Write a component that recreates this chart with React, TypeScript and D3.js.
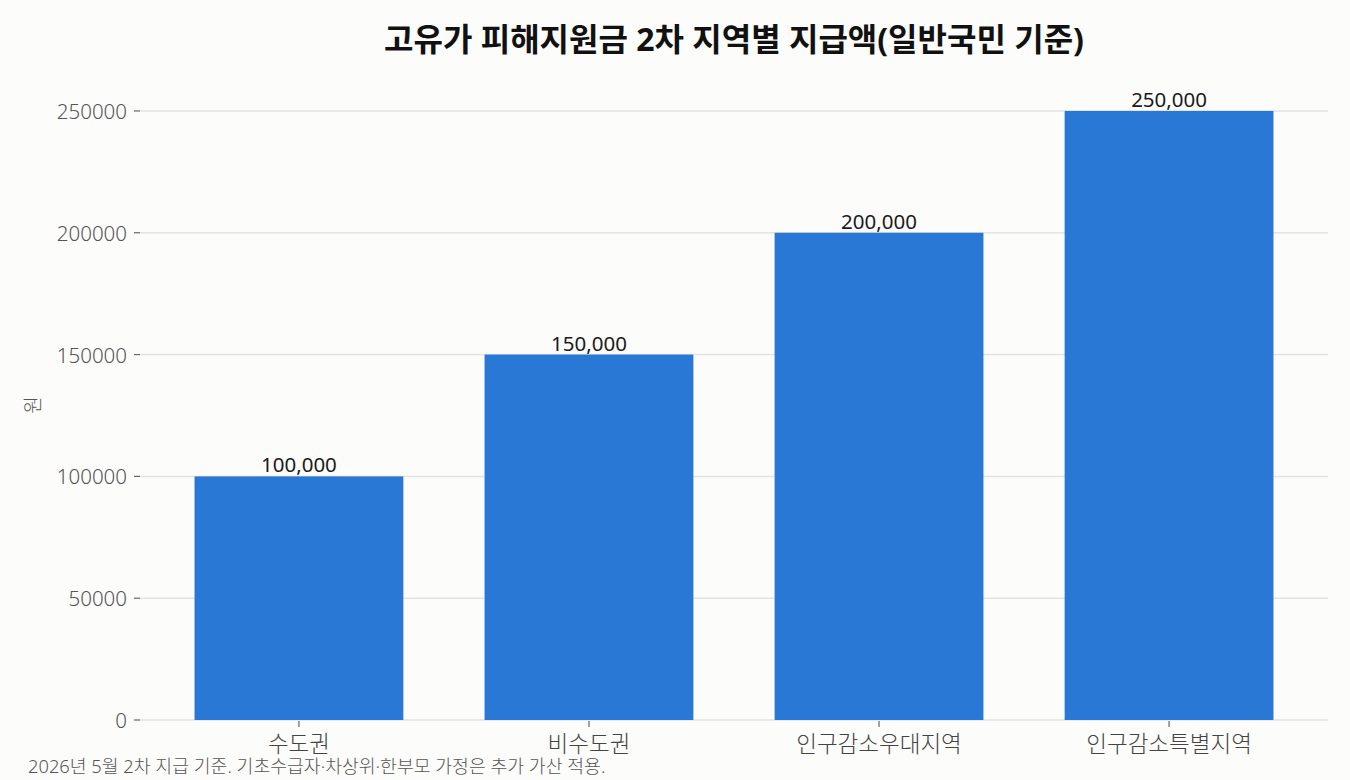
import { useEffect, useRef } from 'react'
import * as d3 from 'd3'

const categories = ['수도권', '비수도권', '인구감소우대지역', '인구감소특별지역']
const amounts = [100000, 150000, 200000, 250000]
const yTicks = [0, 50000, 100000, 150000, 200000, 250000]

const title = '고유가 피해지원금 2차 지역별 지급액(일반국민 기준)'
const yLabel = '원'
const footnote = '2026년 5월 2차 지급 기준. 기초수급자·차상위·한부모 가정은 추가 가산 적용.'

const W = 1350
const H = 780
const FONT = "'Noto Sans', 'Noto Sans CJK KR', sans-serif"

export default function App() {
  const ref = useRef<SVGSVGElement | null>(null)

  useEffect(() => {
    const svg = d3.select(ref.current)
    svg.selectAll('*').remove()
    svg.attr('width', W).attr('height', H).style('font-family', FONT)

    svg.append('rect').attr('width', W).attr('height', H).attr('fill', '#fcfcfa')

    const left = 140
    const right = 1328
    const bottom = 720
    const top = 80.5

    const x = d3.scaleBand<string>().domain(categories).range([left, right]).paddingInner(0.28).paddingOuter(0.188)
    const y = d3.scaleLinear().domain([0, 262500]).range([bottom, top])

    // grid
    svg.append('g')
      .selectAll('line')
      .data(yTicks)
      .join('line')
      .attr('x1', left)
      .attr('x2', right)
      .attr('y1', (d) => y(d))
      .attr('y2', (d) => y(d))
      .attr('stroke', '#e3e3e3')
      .attr('stroke-width', 1.5)

    // y ticks
    const yg = svg.append('g')
    yTicks.forEach((t) => {
      yg.append('line')
        .attr('x1', left - 6)
        .attr('x2', left)
        .attr('y1', y(t))
        .attr('y2', y(t))
        .attr('stroke', '#666')
        .attr('stroke-width', 1.2)
      yg.append('text')
        .attr('x', left - 13)
        .attr('y', y(t))
        .attr('text-anchor', 'end')
        .attr('dominant-baseline', 'central')
        .attr('fill', '#555')
        .style('font-size', '20.5px')
        .style('font-weight', 300)
        .text(String(t))
    })

    // bars
    svg.append('g')
      .selectAll('rect')
      .data(amounts)
      .join('rect')
      .attr('x', (_d, i) => x(categories[i]) as number)
      .attr('width', x.bandwidth())
      .attr('y', (d) => y(d))
      .attr('height', (d) => y(0) - y(d))
      .attr('fill', '#2a78d6')

    // value labels
    const fmt = d3.format(',')
    svg.append('g')
      .selectAll('text')
      .data(amounts)
      .join('text')
      .attr('x', (_d, i) => (x(categories[i]) as number) + x.bandwidth() / 2)
      .attr('y', (d) => y(d) - 4)
      .attr('text-anchor', 'middle')
      .attr('fill', '#1a1a1a')
      .style('font-size', '20.5px')
      .style('font-weight', 400)
      .text((d) => fmt(d))

    // x ticks
    const xg = svg.append('g')
    categories.forEach((c) => {
      const cx = (x(c) as number) + x.bandwidth() / 2
      xg.append('line')
        .attr('x1', cx)
        .attr('x2', cx)
        .attr('y1', bottom + 1)
        .attr('y2', bottom + 7)
        .attr('stroke', '#666')
        .attr('stroke-width', 1.2)
      xg.append('text')
        .attr('x', cx)
        .attr('y', bottom + 32)
        .attr('text-anchor', 'middle')
        .attr('fill', '#444')
        .style('font-size', '22.5px')
        .style('font-weight', 300)
        .text(c)
    })

    // y label
    svg.append('text')
      .attr('transform', 'translate(33,405) rotate(-90)')
      .attr('text-anchor', 'middle')
      .attr('dominant-baseline', 'central')
      .attr('fill', '#555')
      .style('font-size', '19px')
      .style('font-weight', 300)
      .text(yLabel)

    // title
    svg.append('text')
      .attr('x', 734)
      .attr('y', 51)
      .attr('text-anchor', 'middle')
      .attr('fill', '#111')
      .style('font-size', '32px')
      .style('font-weight', 'bold')
      .text(title)

    // footnote
    svg.append('text')
      .attr('x', 28)
      .attr('y', 773)
      .attr('fill', '#555')
      .style('font-size', '18.3px')
      .style('font-weight', 300)
      .text(footnote)
  }, [])

  return <svg ref={ref} style={{ display: 'block', position: 'absolute', left: 0, top: 0 }} />
}
